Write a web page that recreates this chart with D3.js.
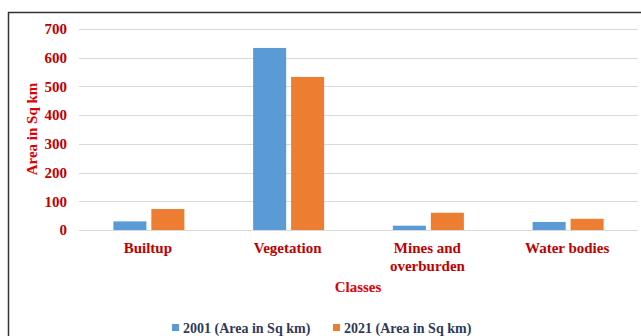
<!DOCTYPE html>
<html><head><meta charset="utf-8">
<script src="https://cdn.jsdelivr.net/npm/d3@7"></script>
<style>body{margin:0;background:#fff}svg{display:block}</style>
</head><body>
<script>
const categories = ["Builtup", "Vegetation", "Mines and|overburden", "Water bodies"];
const seriesNames = ["2001 (Area in Sq km)", "2021 (Area in Sq km)"];
const values2001 = [30, 634, 15, 28];
const values2021 = [73, 533, 60, 39];
const yTicks = [0, 100, 200, 300, 400, 500, 600, 700];
const colors = ["#5b9bd5", "#ed7d31"];

const W = 641, H = 336;
const svg = d3.select("body").append("svg").attr("width", W).attr("height", H);
const font = "'Liberation Serif','Times New Roman',serif";

// frame
svg.append("path").attr("d", `M8.5,${H} V12.5 H${W}`).attr("fill", "none").attr("stroke", "#333").attr("stroke-width", 1.5);

const x0 = d3.scaleBand().domain(categories).range([79, 638]);
const y = d3.scaleLinear().domain([0, 700]).range([230, 29]);
const x1 = d3.scaleBand().domain([0, 1]).range([0, 71]).paddingInner(0.13);

// gridlines
svg.append("g").selectAll("line").data(yTicks).join("line")
  .attr("x1", 79).attr("x2", 638)
  .attr("y1", d => Math.round(y(d)) + 0.5).attr("y2", d => Math.round(y(d)) + 0.5)
  .attr("stroke", "#d9d9d9").attr("stroke-width", 1);

// y axis labels
const yAxis = d3.axisLeft(y).tickValues(yTicks).tickSize(0).tickPadding(0);
const ya = svg.append("g").attr("transform", "translate(67,0)").call(yAxis);
ya.select(".domain").remove();
ya.selectAll("text").attr("font-family", font).attr("font-weight", "bold").attr("font-size", 15).attr("fill", "#c00000");

// bars
const data = categories.map((c, i) => ({c, v: [values2001[i], values2021[i]]}));
const g = svg.append("g").selectAll("g").data(data).join("g")
  .attr("transform", d => `translate(${x0(d.c) + x0.bandwidth() / 2 - 35.5},0)`);
g.selectAll("rect").data(d => d.v.map((v, k) => ({v, k}))).join("rect")
  .attr("x", d => x1(d.k)).attr("width", x1.bandwidth())
  .attr("y", d => y(d.v)).attr("height", d => y(0) - y(d.v))
  .attr("fill", d => colors[d.k]);

// category labels
const cl = svg.append("g").selectAll("text").data(categories).join("text")
  .attr("x", d => x0(d) + x0.bandwidth() / 2 - 1).attr("y", 253)
  .attr("text-anchor", "middle").attr("font-family", font).attr("font-weight", "bold")
  .attr("font-size", 15).attr("fill", "#c00000");
cl.each(function(d) {
  const parts = d.split("|");
  const t = d3.select(this);
  parts.forEach((p, i) => t.append("tspan").attr("x", x0(d) + x0.bandwidth() / 2 - 1).attr("dy", i ? 18 : 0).text(p));
});

// axis titles
svg.append("text").attr("x", 358).attr("y", 292).attr("text-anchor", "middle")
  .attr("font-family", font).attr("font-weight", "bold").attr("font-size", 15).attr("fill", "#e00000").text("Classes");
svg.append("text").attr("transform", "translate(37,129) rotate(-90)").attr("text-anchor", "middle")
  .attr("font-family", font).attr("font-weight", "bold").attr("font-size", 15).attr("fill", "#e00000").text("Area in Sq km");

// legend
const legX = [172, 333];
const lg = svg.append("g").selectAll("g").data(seriesNames).join("g")
  .attr("transform", (d, i) => `translate(${legX[i]},0)`);
lg.append("rect").attr("x", 0).attr("y", 324).attr("width", 7).attr("height", 7).attr("fill", (d, i) => colors[i]);
lg.append("text").attr("x", 11).attr("y", 332.5).attr("font-family", font).attr("font-weight", "bold")
  .attr("font-size", 14).attr("fill", "#2f3a5a").text(d => d);
</script>
</body></html>
